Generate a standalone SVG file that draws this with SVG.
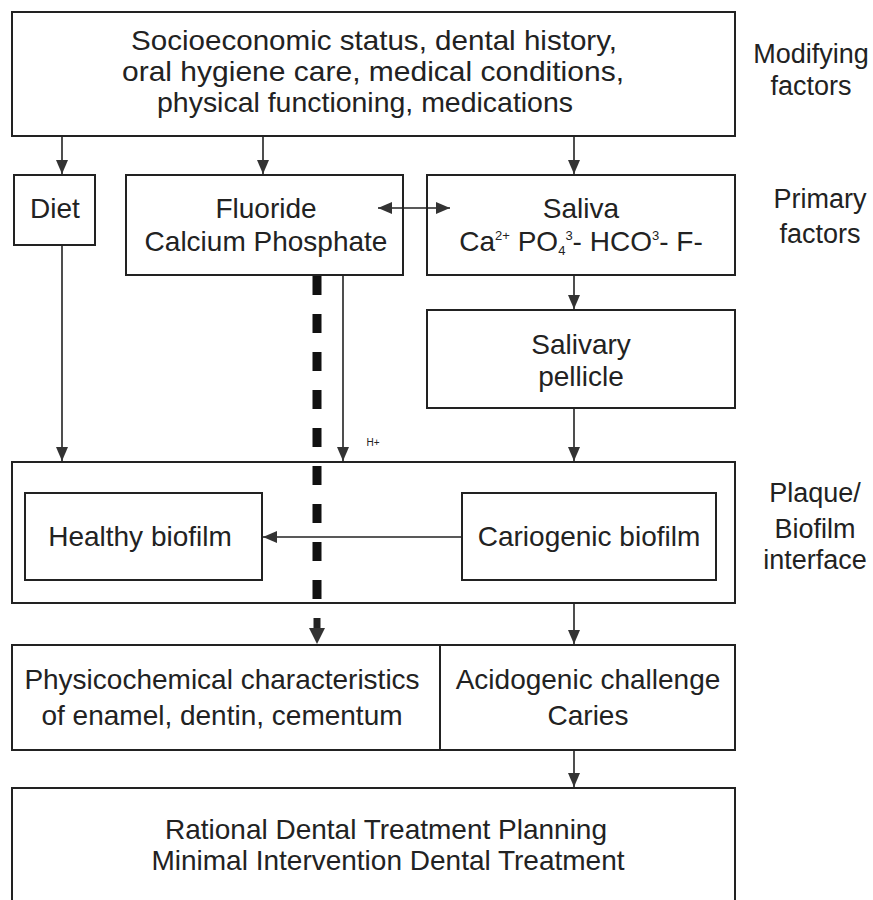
<svg xmlns="http://www.w3.org/2000/svg" width="873" height="900" viewBox="0 0 873 900">
<defs>
<style>
.box{fill:#fff;stroke:#222;stroke-width:2}
.t{font-family:"Liberation Sans",Arial,sans-serif;font-size:28px;fill:#222;text-anchor:middle}
.lb{font-size:27px}
.s{font-size:13px}
.ln{stroke:#222;stroke-width:1.6;fill:none}
</style>
<marker id="ah" viewBox="0 0 14 12" refX="14" refY="6" markerWidth="14" markerHeight="12" markerUnits="userSpaceOnUse" orient="auto-start-reverse">
<path d="M0,0 L14,6 L0,12 Z" fill="#333"/>
</marker>
</defs>
<rect width="873" height="900" fill="#fff"/>

<g id="modifying">
<rect class="box" x="12" y="12" width="723" height="124"/>
<text class="t" x="374" y="50" textLength="486" lengthAdjust="spacingAndGlyphs">Socioeconomic status, dental history,</text>
<text class="t" x="373" y="81" textLength="502" lengthAdjust="spacingAndGlyphs">oral hygiene care, medical conditions,</text>
<text class="t" x="365" y="112" textLength="416" lengthAdjust="spacingAndGlyphs">physical functioning, medications</text>
</g>
<g id="label-modifying"><text class="t lb" x="811" y="63">Modifying</text><text class="t lb" x="811" y="95">factors</text></g>

<g id="diet">
<rect class="box" x="14" y="175" width="81" height="70"/>
<text class="t" x="55" y="218">Diet</text>
</g>
<g id="fluoride">
<rect class="box" x="126" y="175" width="277" height="100"/>
<text class="t" x="266" y="218">Fluoride</text>
<text class="t" x="266" y="251">Calcium Phosphate</text>
</g>
<g id="saliva">
<rect class="box" x="427" y="175" width="308" height="100"/>
<text class="t" x="581" y="218">Saliva</text>
<text class="t" x="581" y="251">Ca<tspan class="s" dy="-11">2+</tspan><tspan dy="11"> PO</tspan><tspan class="s" dy="4">4</tspan><tspan class="s" dy="-15">3</tspan><tspan dy="11">- HCO</tspan><tspan class="s" dy="-11">3</tspan><tspan dy="11">- F-</tspan></text>
</g>
<g id="label-primary"><text class="t lb" x="820" y="208">Primary</text><text class="t lb" x="820" y="243">factors</text></g>

<g id="pellicle">
<rect class="box" x="427" y="310" width="308" height="98"/>
<text class="t" x="581" y="354">Salivary</text>
<text class="t" x="581" y="386">pellicle</text>
</g>

<g id="plaque">
<rect class="box" x="12" y="462" width="723" height="141"/>
</g>
<g id="healthy">
<rect class="box" x="25" y="493" width="237" height="87"/>
<text class="t" x="140" y="546">Healthy biofilm</text>
</g>
<g id="cariogenic">
<rect class="box" x="462" y="493" width="254" height="87"/>
<text class="t" x="589" y="546">Cariogenic biofilm</text>
</g>
<g id="label-plaque"><text class="t lb" x="815" y="502">Plaque/</text><text class="t lb" x="815" y="538">Biofilm</text><text class="t lb" x="815" y="569">interface</text></g>

<g id="physicochemical">
<rect class="box" x="12" y="645" width="428" height="105"/>
<text class="t" x="222" y="689">Physicochemical characteristics</text>
<text class="t" x="222" y="725">of enamel, dentin, cementum</text>
</g>
<g id="acidogenic">
<rect class="box" x="440" y="645" width="295" height="105"/>
<text class="t" x="588" y="689">Acidogenic challenge</text>
<text class="t" x="588" y="725">Caries</text>
</g>

<g id="treatment">
<rect class="box" x="12" y="788" width="723" height="130"/>
<text class="t" x="386" y="839">Rational Dental Treatment Planning</text>
<text class="t" x="388" y="870">Minimal Intervention Dental Treatment</text>
</g>

<g id="connectors">
<line class="ln" x1="62" y1="137" x2="62" y2="174" marker-end="url(#ah)"/>
<line class="ln" x1="263" y1="137" x2="263" y2="174" marker-end="url(#ah)"/>
<line class="ln" x1="574" y1="137" x2="574" y2="174" marker-end="url(#ah)"/>
<line class="ln" x1="378" y1="208" x2="450" y2="208" marker-start="url(#ah)" marker-end="url(#ah)"/>
<line class="ln" x1="574" y1="276" x2="574" y2="309" marker-end="url(#ah)"/>
<line class="ln" x1="62" y1="246" x2="62" y2="461" marker-end="url(#ah)"/>
<line class="ln" x1="343" y1="276" x2="343" y2="461" marker-end="url(#ah)"/>
<text class="t" x="373" y="446" style="font-size:10px">H+</text>
<line class="ln" x1="574" y1="409" x2="574" y2="461" marker-end="url(#ah)"/>
<line class="ln" x1="462" y1="537" x2="263" y2="537" marker-end="url(#ah)"/>
<line x1="317" y1="276" x2="317" y2="618" stroke="#111" stroke-width="9" stroke-dasharray="19 19"/>
<line x1="317" y1="618" x2="317" y2="632" stroke="#222" stroke-width="7"/>
<path d="M309,628 L325,628 L317,644 Z" fill="#333"/>
<line class="ln" x1="574" y1="604" x2="574" y2="644" marker-end="url(#ah)"/>
<line class="ln" x1="574" y1="751" x2="574" y2="787" marker-end="url(#ah)"/>
</g>
</svg>
